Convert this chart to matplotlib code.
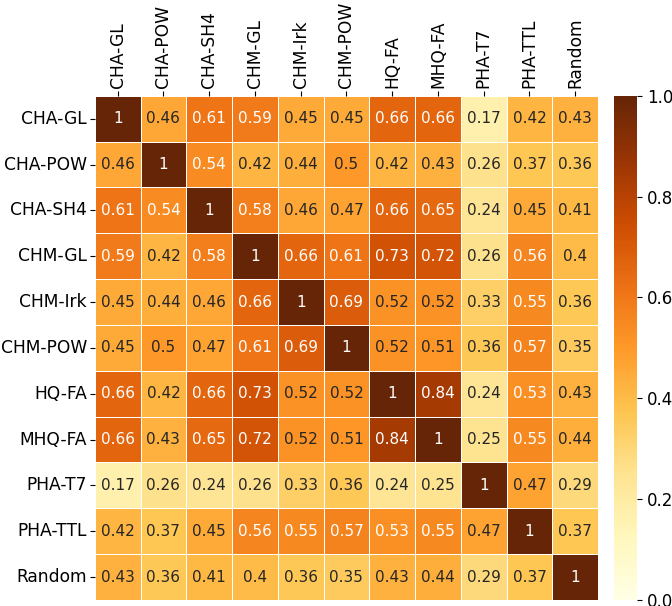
import matplotlib
matplotlib.use("Agg")
import matplotlib.pyplot as plt
import seaborn as sns
import numpy as np

labels = ["CHA-GL", "CHA-POW", "CHA-SH4", "CHM-GL", "CHM-Irk", "CHM-POW",
          "HQ-FA", "MHQ-FA", "PHA-T7", "PHA-TTL", "Random"]

row_cha_gl = [1, 0.46, 0.61, 0.59, 0.45, 0.45, 0.66, 0.66, 0.17, 0.42, 0.43]
row_cha_pow = [0.46, 1, 0.54, 0.42, 0.44, 0.5, 0.42, 0.43, 0.26, 0.37, 0.36]
row_cha_sh4 = [0.61, 0.54, 1, 0.58, 0.46, 0.47, 0.66, 0.65, 0.24, 0.45, 0.41]
row_chm_gl = [0.59, 0.42, 0.58, 1, 0.66, 0.61, 0.73, 0.72, 0.26, 0.56, 0.4]
row_chm_irk = [0.45, 0.44, 0.46, 0.66, 1, 0.69, 0.52, 0.52, 0.33, 0.55, 0.36]
row_chm_pow = [0.45, 0.5, 0.47, 0.61, 0.69, 1, 0.52, 0.51, 0.36, 0.57, 0.35]
row_hq_fa = [0.66, 0.42, 0.66, 0.73, 0.52, 0.52, 1, 0.84, 0.24, 0.53, 0.43]
row_mhq_fa = [0.66, 0.43, 0.65, 0.72, 0.52, 0.51, 0.84, 1, 0.25, 0.55, 0.44]
row_pha_t7 = [0.17, 0.26, 0.24, 0.26, 0.33, 0.36, 0.24, 0.25, 1, 0.47, 0.29]
row_pha_ttl = [0.42, 0.37, 0.45, 0.56, 0.55, 0.57, 0.53, 0.55, 0.47, 1, 0.37]
row_random = [0.43, 0.36, 0.41, 0.4, 0.36, 0.35, 0.43, 0.44, 0.29, 0.37, 1]

matrix = np.array([row_cha_gl, row_cha_pow, row_cha_sh4, row_chm_gl,
                   row_chm_irk, row_chm_pow, row_hq_fa, row_mhq_fa,
                   row_pha_t7, row_pha_ttl, row_random])

fig = plt.figure(figsize=(6.72, 6.06), dpi=100)
ax = fig.add_axes([0.141, 0.01, 0.749, 0.832])
cax = fig.add_axes([0.914, 0.01, 0.034, 0.832])

sns.heatmap(matrix, ax=ax, cbar_ax=cax, cmap="YlOrBr", vmin=0, vmax=1,
            annot=True, fmt="g", annot_kws={"size": 11},
            linewidths=0.5, linecolor="white",
            xticklabels=labels, yticklabels=labels)

# x labels on top
ax.xaxis.tick_top()
ax.set_xticklabels(labels, rotation=90, fontsize=12.3)
ax.set_yticklabels(labels, rotation=0, fontsize=12.3)
ax.tick_params(pad=2)
cax.tick_params(labelsize=12)
cax.set_yticks([0.0, 0.2, 0.4, 0.6, 0.8, 1.0])
cax.set_yticklabels(["0.0", "0.2", "0.4", "0.6", "0.8", "1.0"])

fig.savefig("out.png", dpi=100)
